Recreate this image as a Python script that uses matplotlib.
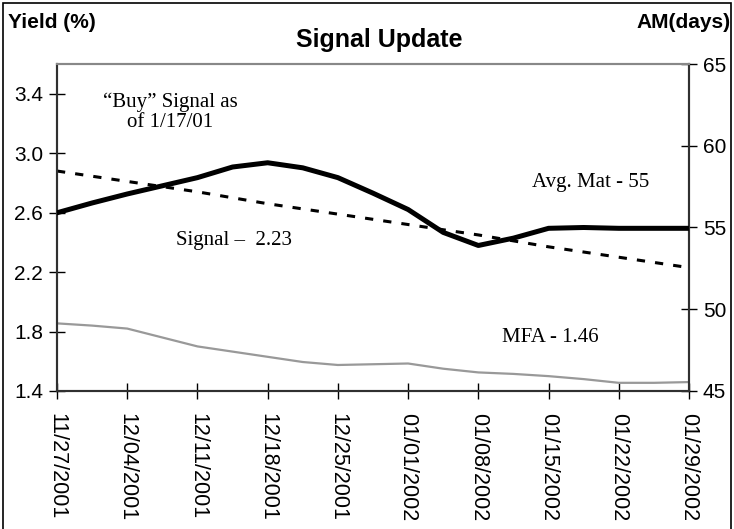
import numpy as np
import matplotlib
matplotlib.use("Agg")
import matplotlib.pyplot as plt
from matplotlib.patches import Rectangle

# weekly tick labels
dates = ["11/27/2001", "12/04/2001", "12/11/2001", "12/18/2001", "12/25/2001",
         "01/01/2002", "01/08/2002", "01/15/2002", "01/22/2002", "01/29/2002"]

# readings every half week (days since 11/27/2001)
days = [0, 3.5, 7, 10.5, 14, 17.5, 21, 24.5, 28, 31.5, 35,
        38.5, 42, 45.5, 49, 52.5, 56, 59.5, 63]

avg_mat = [55.9, 56.5, 57.05, 57.55, 58.05, 58.7, 58.96, 58.65, 58.05, 57.1, 56.1,
           54.7, 53.9, 54.35, 54.95, 55.0, 54.95, 54.95, 54.95]

mfa = [1.855, 1.84, 1.82, 1.76, 1.70, 1.665, 1.63, 1.595, 1.575, 1.58, 1.585,
       1.55, 1.525, 1.515, 1.50, 1.48, 1.455, 1.455, 1.46]

week_days = [0, 7, 14, 21, 28, 35, 42, 49, 56, 63]
signal = [2.88, 2.81, 2.74, 2.66, 2.59, 2.52, 2.45, 2.37, 2.30, 2.23]

sans = ["Liberation Sans", "DejaVu Sans"]
serif = ["Liberation Serif", "DejaVu Serif"]

fig = plt.figure(figsize=(7.34, 5.29), dpi=100)
ax = fig.add_axes([57/734, 1-391/529, (689-57)/734, (391-64)/529])
ax2 = ax.twinx()

ax.plot(days, mfa, color="#999999", lw=1.6, zorder=2)
ax.plot(week_days, signal, color="black", lw=2.2, dashes=(2.7, 3.3), zorder=3)
ax2.plot(days, avg_mat, color="black", lw=3.6, solid_joinstyle="round", zorder=4)

ax.set_xlim(0, 63)
ax.set_ylim(1.4, 3.6)
ax2.set_ylim(45, 65)
ax.set_yticks([1.4, 1.8, 2.2, 2.6, 3.0, 3.4])
ax.set_yticklabels(["1.4", "1.8", "2.2", "2.6", "3.0", "3.4"], family=sans, fontsize=15)
ax2.set_yticks([45, 50, 55, 60, 65])
ax2.set_yticklabels(["45", "50", "55", "60", "65"], family=sans, fontsize=15)
ax.set_xticks(week_days)
ax.set_xticklabels(dates, rotation=270, family=sans, fontsize=15.5, va="top", ha="center")

ax.tick_params(axis="y", direction="inout", length=12, width=1, pad=4)
ax2.tick_params(axis="y", direction="inout", length=12, width=1, pad=4)
ax.tick_params(axis="x", direction="inout", length=12, width=1, pad=10)

for a in (ax, ax2):
    for s in a.spines.values():
        s.set_linewidth(1.5)
        s.set_color("#303030")
    a.spines["top"].set_color("#888888")

fig.text(8/734, 1-22/529, "Yield (%)", family=sans, fontweight="bold",
         fontsize=15, ha="left", va="center")
fig.text(731/734, 1-22/529, "AM(days)", family=sans, fontweight="bold",
         fontsize=15, ha="right", va="center")
fig.text(379/734, 1-40/529, "Signal Update", family=sans, fontweight="bold",
         fontsize=18, ha="center", va="center")

fig.text(170/734, 1-112/529, "\u201cBuy\u201d Signal as\nof 1/17/01", family=serif,
         fontsize=15, ha="center", va="center", linespacing=1.1)
fig.text(234/734, 1-241/529, "Signal \u2013  2.23", family=serif,
         fontsize=15, ha="center", va="center")
fig.text(591/734, 1-182/529, "Avg. Mat - 55", family=serif,
         fontsize=15, ha="center", va="center")
fig.text(550/734, 1-338/529, "MFA - 1.46", family=serif,
         fontsize=15, ha="center", va="center")

# outer frame of the picture
fig.patches.append(Rectangle((3/734, -0.01), 728/734, 1.01-3/529, transform=fig.transFigure,
                             fill=False, edgecolor="black", lw=1.2))

fig.savefig("out.png", dpi=100)
